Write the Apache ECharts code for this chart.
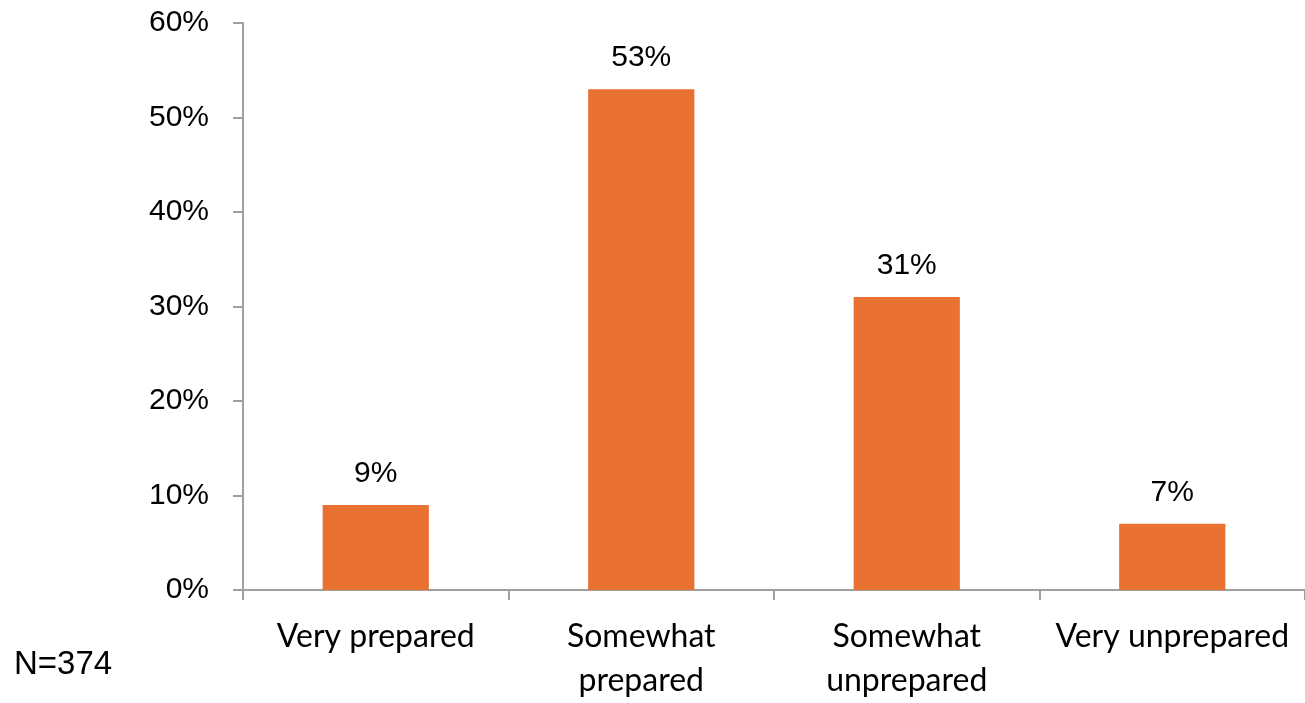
<!DOCTYPE html>
<html>
<head>
<meta charset="utf-8">
<script src="https://cdn.jsdelivr.net/npm/echarts@6/dist/echarts.min.js"></script>
<style>
html,body{margin:0;padding:0;background:#fff;}
#chart{width:1305px;height:703px;}
</style>
</head>
<body>
<div id="chart"></div>
<script>
const categories = ['Very prepared', 'Somewhat\nprepared', 'Somewhat\nunprepared', 'Very unprepared'];
const values = [9, 53, 31, 7];
const yTicks = [0, 10, 20, 30, 40, 50, 60];
const note = 'N=374';

const chart = echarts.init(document.getElementById('chart'), null, {renderer: 'canvas'});
const axisColor = '#a0a0a0';
chart.setOption({
  animation: false,
  backgroundColor: '#ffffff',
  grid: {left: 243, top: 23, width: 1065, height: 570, containLabel: false},
  xAxis: {
    type: 'category',
    data: categories,
    axisLine: {show: true, lineStyle: {color: axisColor, width: 2}},
    axisTick: {show: true, length: 10, lineStyle: {color: axisColor, width: 2}},
    axisLabel: {
      color: '#000',
      fontFamily: 'Lato',
      fontSize: 32,
      lineHeight: 44,
      margin: 25,
      interval: 0
    }
  },
  yAxis: {
    type: 'value',
    min: yTicks[0],
    max: yTicks[yTicks.length - 1],
    interval: 10,
    splitLine: {show: false},
    axisLine: {show: true, lineStyle: {color: axisColor, width: 2}},
    axisTick: {show: true, length: 10, lineStyle: {color: axisColor, width: 2}},
    axisLabel: {
      color: '#000',
      fontFamily: 'Liberation Sans',
      fontSize: 30,
      margin: 34,
      formatter: '{value}%'
    }
  },
  series: [{
    type: 'bar',
    data: values,
    barWidth: '40%',
    itemStyle: {color: '#E97132'},
    label: {
      show: true,
      position: 'top',
      distance: 16,
      color: '#000',
      fontFamily: 'Liberation Sans',
      fontSize: 30,
      formatter: '{c}%'
    }
  }],
  graphic: [{
    type: 'text',
    left: 14,
    top: 648,
    style: {text: note, fill: '#000', font: '33px "Liberation Sans"'}
  }]
});
</script>
</body>
</html>
